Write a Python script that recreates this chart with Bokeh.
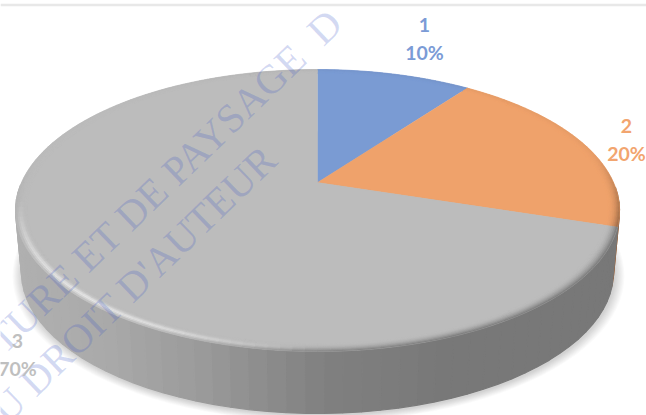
import numpy as np
from bokeh.plotting import figure
from bokeh.models import Range1d
from bokeh.core.properties import value
from bokeh.embed import file_html
from bokeh.resources import INLINE

categories = ["1", "2", "3"]
shares = [10, 20, 70]
slice_colors = ["#7a9bd3", "#efa26b", "#bcbcbc"]
label_colors = ["#7b9bd6", "#f2a56f", "#bfbfbf"]
label_x = [424, 626, 17]
label_y = [24, 125, 340]
watermark = ["TURE ET DE PAYSAGE\u00a0\u00a0D", "U DROIT D'AUTEUR"]

W, H = 646, 415
CX, CY, A, B, K = 317.0, 182.0, 296.0, 135.4, 0.1986
DEPTH, SHRINK = 62.0, 0.98

def pt(t, r=1.0):
    """Disc point at clockwise angle t (deg from top), perspective projected."""
    a = np.radians(t)
    u, v = r * np.sin(a), r * np.cos(a)
    w = 1 + K * v
    return CX + A * u / w, CY - B * v / w

def low(x, y):
    return CX + (x - CX) * SHRINK, y + DEPTH

def rgb(c):
    return np.array([int(c[i:i + 2], 16) for i in (1, 3, 5)], float)

def hexc(c):
    c = np.clip(np.round(c), 0, 255).astype(int)
    return "#%02x%02x%02x" % tuple(c)

p = figure(width=W, height=H, output_backend="svg", toolbar_location=None,
           x_range=Range1d(0, W), y_range=Range1d(H, 0), min_border=0,
           outline_line_color=None, background_fill_color="white")
p.axis.visible = False
p.grid.visible = False

# top rule of the screenshot
p.line([0, W], [4.5, 4.5], line_color="#e8e8e8", line_width=2.5)

# soft shadow
ts = np.arange(0, 361, 3.0)
for i in range(9):
    r = 1.0 + 0.004 * (i + 1) * 0.9
    xs, ys = [], []
    for t in ts:
        x, y = pt(t, r)
        x, y = low(x, y)
        xs.append(x + 1)
        ys.append(y + 1.5)
    p.patch(xs, ys, fill_color="black", fill_alpha=0.018, line_color=None)

edges = np.cumsum([0] + shares) * 360.0 / sum(shares)
GX = [15, 100, 200, 323, 450, 620]
GV = [176, 170, 154, 128, 120, 120]

def side_tone(x):
    return np.interp(x, GX, GV) / 188.0

def slice_of(t):
    for i in range(len(shares)):
        if edges[i] <= t < edges[i + 1]:
            return i
    return len(shares) - 1

# extruded side
sx, sy, sc = [], [], []
step = 3.0
for t in np.arange(92, 268, step):
    x0, y0 = pt(t)
    x1, y1 = pt(t + step)
    xa, ya = low(x0, y0)
    xb, yb = low(x1, y1)
    base = rgb(slice_colors[slice_of(t + step / 2)])
    col = hexc(base * side_tone((x0 + x1) / 2))
    sx.append([x0, x1, xb, xa])
    sy.append([y0, y1, yb, ya])
    sc.append(col)
p.patches(sx, sy, fill_color=sc, line_color=sc, line_width=1.2)

# flat top wedges
for i in range(len(shares)):
    tt = np.linspace(edges[i], edges[i + 1], 120)
    pts = [pt(t) for t in tt]
    p.patch([CX] + [q[0] for q in pts], [CY] + [q[1] for q in pts],
            fill_color=slice_colors[i], line_color=slice_colors[i], line_width=0.4)

# bevel rim
rx, ry, rc = [], [], []
LAYERS = 7
R0 = 0.962
step = 2.0
for t in np.arange(0, 360, step):
    tm = t + step / 2
    base = rgb(slice_colors[slice_of(tm)])
    xm, ym = pt(tm)
    front = np.clip((np.cos(np.radians(tm - 180)) + 0.2) / 0.5, 0, 1)
    dark = base * side_tone(xm)
    glow = max(0.0, np.cos(np.radians((tm - 222) * 2.2))) if abs(tm - 222) < 41 else 0.0
    for k in range(LAYERS):
        f0, f1 = k / LAYERS, (k + 1) / LAYERS
        fm = (f0 + f1) / 2
        r0, r1 = R0 + (1 - R0) * f0, R0 + (1 - R0) * f1
        vis = 0.12 + 0.88 * front
        col = base + (dark - base) * (fm ** 2.2) * vis * (1 - glow * 0.75)
        col = col + (255 - col) * 0.62 * glow * np.exp(-((fm - 0.62) / 0.25) ** 2)
        a0, b0 = pt(t, r0)
        a1, b1 = pt(t + step, r0)
        a2, b2 = pt(t + step, r1)
        a3, b3 = pt(t, r1)
        rx.append([a0, a1, a2, a3])
        ry.append([b0, b1, b2, b3])
        rc.append(hexc(col))
p.patches(rx, ry, fill_color=rc, line_color=rc, line_width=0.4)

# watermark
p.text([-6, -3], [345, 415], text=watermark, angle=[44, 44], angle_units="deg",
       text_font=value("Liberation Serif"), text_font_size="41px",
       text_color="#3a55c8", text_alpha=0.22, text_align="left", text_baseline="alphabetic")

# labels
pct = ["%d%%" % v for v in shares]
for dy, txt in ((0, categories), (28, pct)):
    p.text(label_x, [y + dy for y in label_y], text=txt, text_color=label_colors,
           text_font=value("Lato"), text_font_size="19.5px", text_font_style="bold",
           text_align="center", text_baseline="middle")

open("out.html", "w").write(file_html(p, INLINE))
